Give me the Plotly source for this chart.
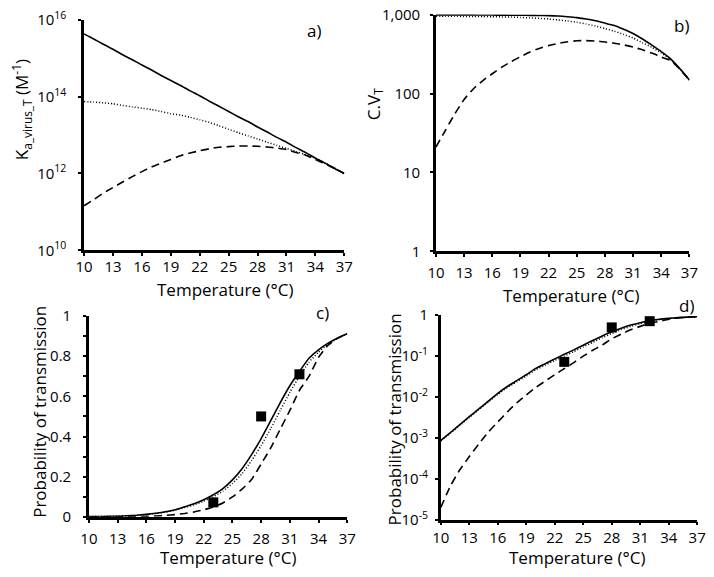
import plotly.graph_objects as go

W, H = 714, 577

# ---------------- data ----------------
temperature = list(range(10, 38))
x_ticks = [10, 13, 16, 19, 22, 25, 28, 31, 34, 37]

# panel a: Ka_virus_T (M^-1)
ka_solid = [4.27e15, 3.16e15, 2.29e15, 1.70e15, 1.23e15, 9.1e14, 6.6e14, 4.9e14, 3.55e14, 2.63e14,
            1.95e14, 1.41e14, 1.05e14, 7.6e13, 5.6e13, 4.1e13, 3.0e13, 2.24e13, 1.62e13, 1.20e13,
            8.7e12, 6.5e12, 4.7e12, 3.5e12, 2.5e12, 1.86e12, 1.35e12, 1.0e12]
ka_dotted = [7.4e13, 7.2e13, 6.9e13, 6.5e13, 5.9e13, 5.4e13, 5.0e13, 4.6e13, 4.1e13, 3.6e13,
             3.3e13, 2.9e13, 2.5e13, 2.14e13, 1.74e13, 1.41e13, 1.15e13, 9.5e12, 7.9e12, 6.5e12,
             5.4e12, 4.5e12, 3.7e12, 3.1e12, 2.5e12, 1.86e12, 1.38e12, 1.0e12]
ka_dashed = [1.45e11, 2.1e11, 3.1e11, 4.3e11, 6.0e11, 8.3e11, 1.12e12, 1.48e12, 1.86e12, 2.3e12,
             2.9e12, 3.4e12, 3.9e12, 4.4e12, 4.8e12, 5.0e12, 5.2e12, 5.2e12, 5.1e12, 4.9e12,
             4.6e12, 4.2e12, 3.5e12, 3.0e12, 2.3e12, 1.78e12, 1.35e12, 1.0e12]

# panel b: C.V_T
cv_solid = [990, 990, 990, 990, 990, 988, 986, 984, 982, 980,
            978, 975, 970, 960, 940, 915, 880, 835, 780, 725,
            650, 575, 490, 410, 340, 275, 205, 148]
cv_dotted = [955, 952, 950, 948, 946, 945, 940, 935, 930, 920,
             910, 895, 880, 855, 830, 800, 760, 715, 665, 615,
             560, 505, 440, 385, 325, 270, 205, 148]
cv_dashed = [21, 34, 55, 84, 115, 146, 178, 215, 253, 292,
             335, 372, 404, 430, 452, 465, 468, 462, 450, 434,
             413, 388, 358, 325, 290, 262, 203, 148]

# panels c & d: probability of transmission
p_solid = [8.7e-4, 1.35e-3, 2.1e-3, 3.3e-3, 5.1e-3, 7.9e-3, 1.23e-2, 1.8e-2, 2.5e-2, 3.5e-2,
           5.0e-2, 6.5e-2, 8.5e-2, 0.11, 0.141, 0.184, 0.24, 0.31, 0.39, 0.479,
           0.569, 0.653, 0.724, 0.79, 0.832, 0.865, 0.891, 0.912]
p_dotted = [8.4e-4, 1.3e-3, 2.0e-3, 3.15e-3, 4.9e-3, 7.5e-3, 1.16e-2, 1.7e-2, 2.35e-2, 3.25e-2,
            4.6e-2, 6.0e-2, 7.8e-2, 0.10, 0.128, 0.166, 0.215, 0.28, 0.355, 0.44,
            0.53, 0.62, 0.70, 0.77, 0.82, 0.86, 0.888, 0.912]
p_dashed = [2.0e-5, 6.6e-5, 1.66e-4, 3.5e-4, 7.1e-4, 1.38e-3, 2.45e-3, 4.3e-3, 7.2e-3, 1.12e-2,
            1.7e-2, 2.45e-2, 3.5e-2, 4.9e-2, 6.9e-2, 9.9e-2, 0.138, 0.186, 0.263, 0.343,
            0.437, 0.53, 0.63, 0.70, 0.794, 0.855, 0.89, 0.912]
obs_temperature = [23, 28, 32]
obs_probability = [0.072, 0.50, 0.71]

# ---------------- figure ----------------
FONT = "Open Sans"
fig = go.Figure()

styles = [
    dict(color="black", width=1.6, dash="solid"),
    dict(color="black", width=1.5, dash="1px,2px"),
    dict(color="black", width=1.6, dash="8px,5px"),
]

def add_lines(series, xa, ya):
    for s, st in zip(series, styles):
        fig.add_trace(go.Scatter(x=temperature, y=s, mode="lines",
                                 line=dict(shape="spline", smoothing=0.5, **st),
                                 xaxis=xa, yaxis=ya, showlegend=False, hoverinfo="skip"))

add_lines([ka_solid, ka_dotted, ka_dashed], "x", "y")
add_lines([cv_solid, cv_dotted, cv_dashed], "x2", "y2")
add_lines([p_solid, p_dotted, p_dashed], "x3", "y3")
add_lines([p_solid, p_dotted, p_dashed], "x4", "y4")
for xa, ya in [("x3", "y3"), ("x4", "y4")]:
    fig.add_trace(go.Scatter(x=obs_temperature, y=obs_probability, mode="markers",
                             marker=dict(symbol="square", size=10, color="black"),
                             xaxis=xa, yaxis=ya, showlegend=False, cliponaxis=False))

def px(v):
    return v / W

def py(v):
    return 1 - v / H

tickfont = dict(family=FONT, size=15, color="black")

def xaxis(dom, anchor, standoff):
    return dict(domain=dom, anchor=anchor, range=[10, 37], tickvals=x_ticks, showline=True,
                linecolor="black", linewidth=2.5, ticks="outside", ticklen=3, tickwidth=1.5,
                tickcolor="black", showgrid=False, zeroline=False, tickfont=tickfont,
                ticklabelstandoff=standoff)

def yaxis_common(dom, anchor, standoff):
    return dict(domain=dom, anchor=anchor, showline=True, linecolor="black", linewidth=2.5,
                ticks="outside", ticklen=3, tickwidth=1.5, tickcolor="black", showgrid=False,
                zeroline=False, tickfont=tickfont, ticklabelstandoff=standoff)

layout = dict(
    width=W, height=H, margin=dict(l=0, r=0, t=0, b=0),
    paper_bgcolor="white", plot_bgcolor="white", showlegend=False,
    xaxis=xaxis([px(77), px(344)], "y", -2),
    xaxis2=xaxis([px(438), px(698)], "y2", 3),
    xaxis3=xaxis([px(82), px(347)], "y3", 3),
    xaxis4=xaxis([px(443), px(706)], "y4", 0),
)
ya = yaxis_common([py(248), py(9)], "x", 9)
ya.update(type="log", range=[10, 16], tickvals=[1e10, 1e12, 1e14, 1e16],
          ticktext=["10<sup>10</sup>", "10<sup>12</sup>", "10<sup>14</sup>", "10<sup>16</sup>"])
yb = yaxis_common([py(249), py(3.7)], "x2", 7)
yb.update(type="log", range=[0, 3], tickvals=[1, 10, 100, 1000], ticktext=["1", "10", "100", "1,000"])
yc = yaxis_common([py(524), py(316)], "x3", 9)
yc.update(range=[0, 1], dtick=0.2, tick0=0,
          minor=dict(dtick=0.1, ticks="outside", ticklen=3, tickcolor="black", tickwidth=1.5))
yd = yaxis_common([py(527), py(315)], "x4", 4)
yd.update(type="log", range=[-5, 0], tickvals=[1e-5, 1e-4, 1e-3, 1e-2, 1e-1, 1],
          ticktext=["10<sup>-5</sup>", "10<sup>-4</sup>", "10<sup>-3</sup>", "10<sup>-2</sup>",
                    "10<sup>-1</sup>", "1"])
layout.update(yaxis=ya, yaxis2=yb, yaxis3=yc, yaxis4=yd)
fig.update_layout(**layout)

tfont = dict(family=FONT, size=17, color="black")
annots = [
    ("Temperature (°C)", 222, 288, 0),
    ("Temperature (°C)", 577, 295, 0),
    ("Temperature (°C)", 225, 566, 0),
    ("Temperature (°C)", 583, 566, 0),
    ("K<sub>a_virus_T</sub> (M<sup>-1</sup>)", 13, 102, -90),
    ("C.V<sub>T</sub>", 375, 97, -90),
    ("Probability of transmission", 31, 415, -90),
    ("Probability of transmission", 395, 423, -90),
    ("a)", 313, 20, 0),
    ("b)", 690, 15, 0),
    ("c)", 322, 312, 0),
    ("d)", 695, 305, 0),
]
for text, x, y, ang in annots:
    fig.add_annotation(text=text, x=px(x), y=py(y), xref="paper", yref="paper", showarrow=False,
                       textangle=ang, font=tfont, xanchor="center", yanchor="middle")

fig.write_html("out.html", config={"displayModeBar": False},
               post_script="document.body.style.margin='0px';")
